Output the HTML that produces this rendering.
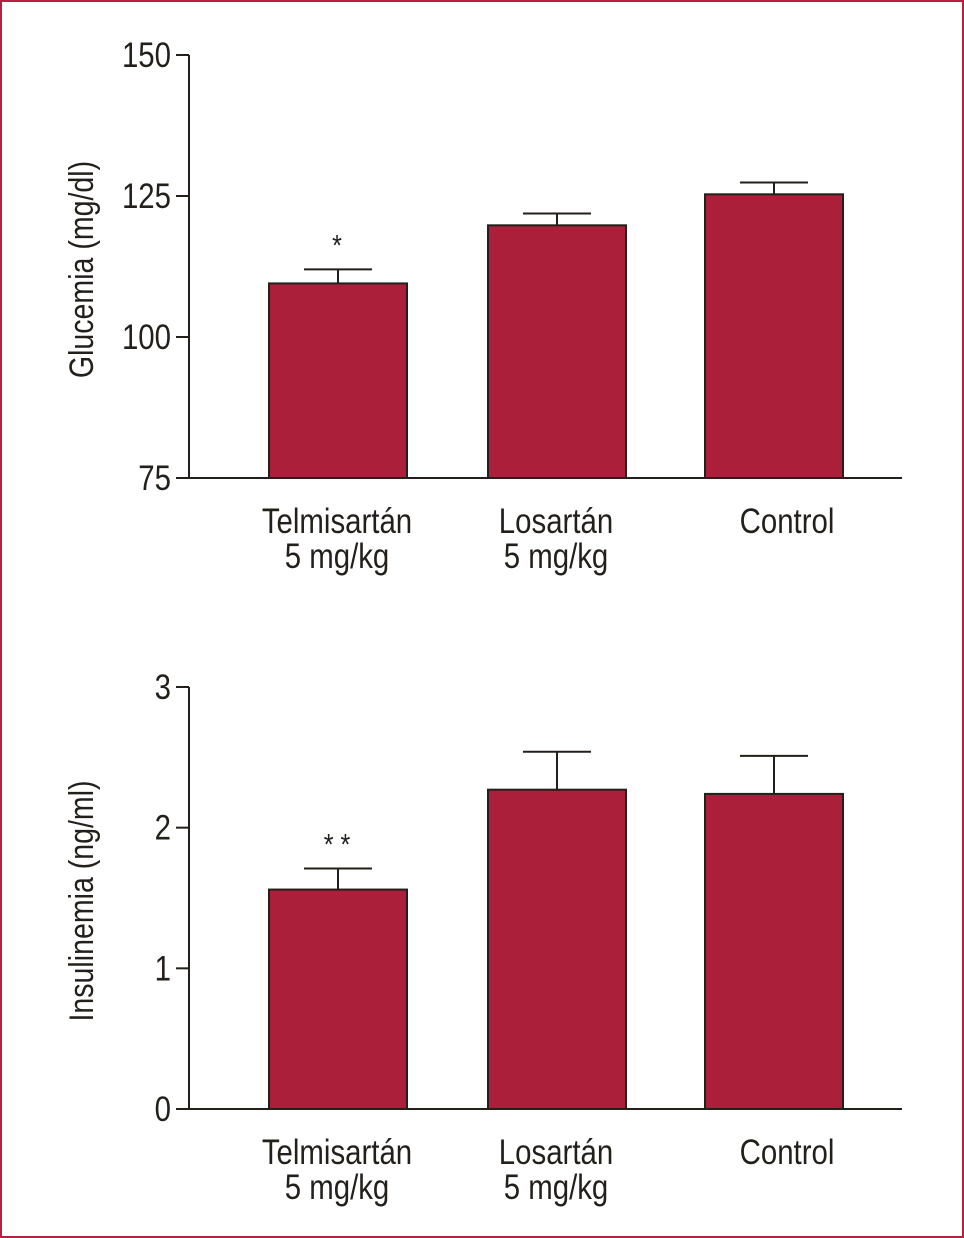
<!DOCTYPE html>
<html><head><meta charset="utf-8"><style>
body{margin:0;background:#fff}
svg{display:block}
text{font-family:"Liberation Sans Narrow","Liberation Sans",sans-serif;fill:#231f1a}
</style></head><body>
<svg id="s" width="964" height="1238">
<rect x="1" y="1" width="962" height="1236" fill="none" stroke="#b5223f" stroke-width="2"/>
</svg>
<script>
const categories=[["Telmisartán","5 mg/kg"],["Losartán","5 mg/kg"],["Control"]];
const glucValues=[109.5,119.8,125.3];
const glucErrors=[2.5,2.1,2.1];
const glucTicks=[75,100,125,150];
const glucSig=["*","",""];
const insValues=[1.56,2.27,2.24];
const insErrors=[0.15,0.27,0.27];
const insTicks=[0,1,2,3];
const insSig=["* *","",""];
const NS="http://www.w3.org/2000/svg";
const svg=document.getElementById('s');
function mk(t,a,p){const e=document.createElementNS(NS,t);for(const k in a)e.setAttribute(k,a[k]);(p||svg).appendChild(e);return e;}
function txt(p,x,y,s,anchor,size,extra){const t=mk('text',{x:0,y:0,"text-anchor":anchor,"font-size":size,transform:`translate(${x} ${y}) ${extra||''} scale(0.84 1)`},p);t.textContent=s;return t;}
function chart(name,top,bottom,ymin,ymax,ticks,vals,errs,sig,title){
  const g=mk('g',{});
  
  
  const ax=189,xr=902;
  const y=v=>bottom-(v-ymin)/(ymax-ymin)*(bottom-top);
  const centers=[338,557,774],bw=138;
  const labelX=[337,556,787];
  vals.forEach((v,i)=>{
    const cx=centers[i];
    const r=mk('rect',{x:cx-bw/2,y:y(v),width:bw,height:bottom-y(v),fill:"#ab1f3a",stroke:"#231f1a","stroke-width":2},g);
    
    
    const e=mk('path',{d:`M${cx} ${y(v)}V${y(v+errs[i])}M${cx-34} ${y(v+errs[i])}H${cx+34}`,stroke:"#231f1a","stroke-width":2,fill:"none"},g);
    
    
    if(sig[i]){const s=txt(g,cx-1,y(v+errs[i])-14,sig[i],"middle",30);
      
      }
    categories[i].forEach((l,j)=>{const t=txt(g,labelX[i],bottom+55+j*35,l,"middle",35);
      
      });
  });
  const a=mk('path',{d:`M${ax} ${top}V${bottom}H${xr}`,stroke:"#231f1a","stroke-width":2,fill:"none"},g);
  
  
  ticks.forEach(tv=>{
    mk('path',{d:`M${ax-13} ${y(tv)}H${ax}`,stroke:"#231f1a","stroke-width":2},g);
    const t=txt(g,ax-18,y(tv)+12,String(tv),"end",35);
    
    
  });
  const yt=mk('text',{x:0,y:0,"text-anchor":"middle","font-size":34,transform:`translate(93 ${(top+bottom)/2+3}) rotate(-90) scale(0.84 1)`},g);
  yt.textContent=title;
  
  
}
chart('glucemia-chart',55,478,75,150,glucTicks,glucValues,glucErrors,glucSig,'Glucemia (mg/dl)');
chart('insulinemia-chart',687,1109,0,3,insTicks,insValues,insErrors,insSig,'Insulinemia (ng/ml)');
</script>
</body></html>
